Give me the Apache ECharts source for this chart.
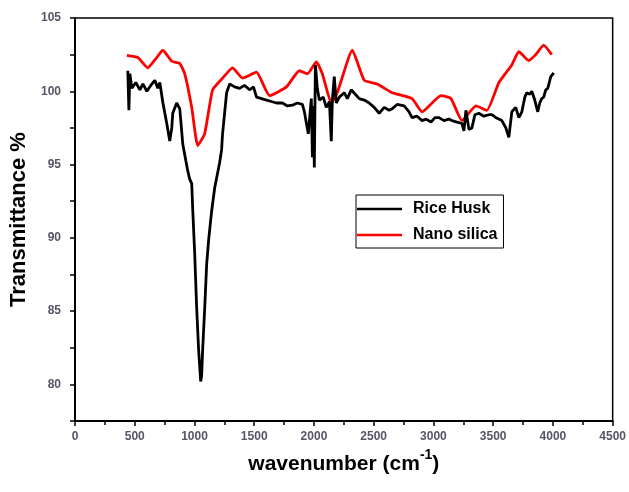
<!DOCTYPE html>
<html><head><meta charset="utf-8">
<script src="https://cdn.jsdelivr.net/npm/echarts@6/dist/echarts.min.js"></script>
<style>html,body{margin:0;padding:0;background:#fff}#c{width:629px;height:492px}</style>
</head><body><div id="c"></div>
<script>
const xTicks = [0,500,1000,1500,2000,2500,3000,3500,4000,4500];
const yTicks = [80,85,90,95,100,105];
const seriesNames = ['Rice Husk','Nano silica'];
const riceHusk = [[442,101.4],[451,98.7],[459,101.2],[476,100.2],[509,100.6],[543,100.1],[568,100.5],[601,100.0],[634,100.4],[668,100.75],[693,100.2],[710,100.6],[735,99.25],[768,97.8],[793,96.6],[810,97.5],[818,98.5],[851,99.2],[877,98.8],[902,96.4],[927,95.3],[943,94.6],[960,94.0],[977,93.7],[985,92],[1002,88.9],[1018,85.3],[1035,82.3],[1052,80.2],[1060,80.6],[1068,82.3],[1085,85.1],[1102,88.2],[1119,89.9],[1144,91.85],[1169,93.4],[1210,95.1],[1227,96.0],[1235,97.1],[1269,99.9],[1294,100.5],[1336,100.3],[1377,100.2],[1419,100.4],[1461,100.1],[1494,100.3],[1519,99.6],[1561,99.5],[1603,99.4],[1644,99.3],[1686,99.2],[1736,99.2],[1778,99.0],[1820,99.05],[1861,99.2],[1903,99.1],[1920,98.6],[1937,97.8],[1953,97.1],[1962,98.0],[1978,99.5],[1987,95.5],[1995,99.0],[2003,94.8],[2012,101.8],[2028,100.2],[2045,99.4],[2078,99.6],[2103,98.9],[2129,99.3],[2145,96.6],[2154,99.4],[2170,101.0],[2187,99.2],[2212,99.6],[2254,99.9],[2279,99.5],[2312,100.1],[2346,99.8],[2379,99.5],[2421,99.4],[2462,99.2],[2504,98.9],[2546,98.5],[2588,98.9],[2629,98.7],[2654,98.8],[2696,99.1],[2755,99.0],[2796,98.6],[2821,98.2],[2863,98.3],[2905,98.0],[2938,98.1],[2980,97.9],[3013,98.2],[3047,98.2],[3088,98.0],[3130,98.1],[3155,98.0],[3197,97.9],[3239,97.8],[3255,97.3],[3272,98.7],[3297,97.4],[3322,97.5],[3347,98.4],[3380,98.5],[3422,98.3],[3464,98.4],[3489,98.4],[3523,98.2],[3573,98.0],[3606,97.5],[3631,96.85],[3656,98.6],[3689,98.9],[3715,98.2],[3740,98.6],[3765,99.6],[3781,99.9],[3806,99.8],[3823,100.0],[3848,99.4],[3873,98.6],[3890,99.2],[3906,99.5],[3923,99.6],[3940,100.1],[3957,100.2],[3982,101.0],[4007,101.25]];
const nanoSilica = [[434,102.45],[526,102.3],[609,101.6],[684,102.3],[735,102.8],[810,102.05],[877,101.9],[918,101.2],[977,98.9],[1027,96.3],[1085,97.1],[1152,100.1],[1235,100.9],[1319,101.6],[1402,100.9],[1519,101.3],[1628,99.7],[1770,100.3],[1878,101.4],[1945,101.2],[2020,102],[2070,101.2],[2145,99.2],[2195,99.9],[2321,102.8],[2421,100.75],[2529,100.5],[2654,99.9],[2821,99.5],[2905,98.6],[3063,99.7],[3147,99.5],[3239,98],[3356,99],[3447,98.7],[3548,100.6],[3656,101.8],[3715,102.7],[3798,102.1],[3856,102.5],[3923,103.15],[3990,102.5]];

const chart = echarts.init(document.getElementById('c'), null, {renderer:'canvas'});
const font = 'Liberation Sans, Arial, sans-serif';
const lineIcon = 'path://M0,0 M45,14 M0,5.75 L45,5.75 L45,8.25 L0,8.25 Z';
chart.setOption({
  animation:false,
  backgroundColor:'#fff',
  grid:{left:75,right:15,top:18,bottom:71,show:true,borderColor:'#000',borderWidth:1.5,backgroundColor:'transparent'},
  legend:{
    left:356, top:195, orient:'vertical',
    data:[{name:seriesNames[0],icon:lineIcon},{name:seriesNames[1],icon:lineIcon}],
    borderColor:'#000', borderWidth:1, borderRadius:0,
    padding:[6,6,5,1], itemGap:10, itemWidth:45, itemHeight:14,
    textStyle:{fontFamily:font,fontWeight:'bold',fontSize:16,color:'#000',padding:[0,0,0,6]}
  },
  xAxis:{
    type:'value', min:0, max:4500, interval:500,
    name:'{a|wavenumber (cm}{s|-1}{a|)}', nameLocation:'middle', nameGap:16,
    nameTextStyle:{rich:{a:{fontFamily:font,fontWeight:'bold',fontSize:21,color:'#000',verticalAlign:'top',padding:[6,0,0,0]},s:{fontFamily:font,fontWeight:'bold',fontSize:14,color:'#000',verticalAlign:'top'}}},
    axisLine:{show:true,onZero:false,lineStyle:{color:'#000',width:2}},
    axisTick:{show:true,inside:false,length:5,lineStyle:{color:'#000',width:1.5}},
    minorTick:{show:true,splitNumber:2,length:4,lineStyle:{color:'#000',width:1.5}},
    axisLabel:{fontFamily:font,fontSize:12,fontWeight:'bold',color:'#555566',margin:10,formatter:v=>xTicks.includes(v)?String(v):''},
    splitLine:{show:false}
  },
  yAxis:{
    type:'value', min:77.5, max:105, interval:2.5,
    name:'Transmittance %', nameLocation:'middle', nameGap:44, nameRotate:90,
    nameTextStyle:{fontFamily:font,fontWeight:'bold',fontSize:22,color:'#000'},
    axisLine:{show:true,onZero:false,lineStyle:{color:'#000',width:2}},
    axisTick:{show:true,inside:false,length:5,lineStyle:{color:'#000',width:1.5}},
    axisLabel:{fontFamily:font,fontSize:12,fontWeight:'bold',color:'#555566',margin:14,formatter:v=>yTicks.includes(v)?String(v):''},
    splitLine:{show:false}
  },
  series:[
    {name:seriesNames[0],type:'line',data:riceHusk,symbol:'none',lineStyle:{color:'#000',width:2.8},itemStyle:{color:'#000'},z:3},
    {name:seriesNames[1],type:'line',data:nanoSilica,symbol:'none',smooth:0.15,lineStyle:{color:'#ff0000',width:2.8},itemStyle:{color:'#ff0000'},z:2}
  ]
});
</script></body></html>
